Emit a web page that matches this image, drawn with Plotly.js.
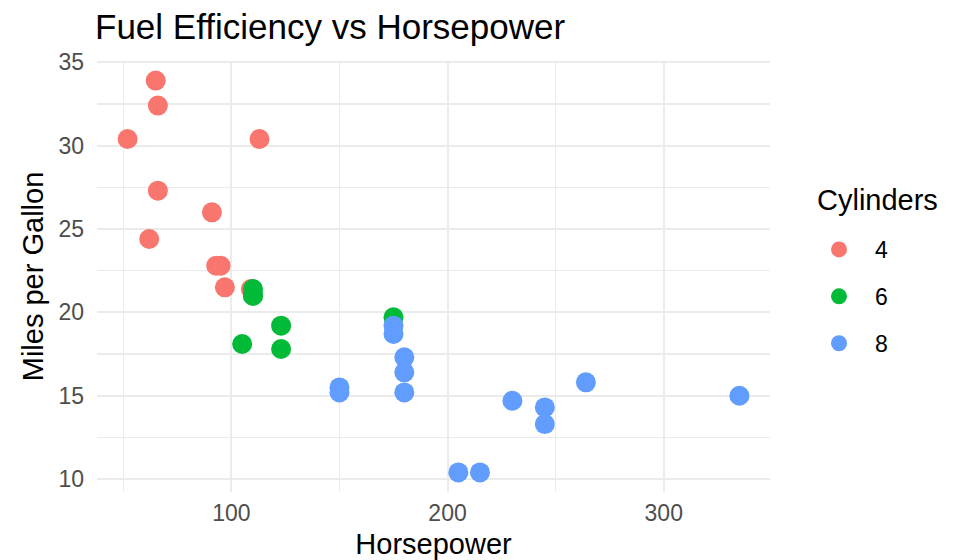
<!DOCTYPE html>
<html>
<head>
<meta charset="utf-8">
<script src="https://cdn.plot.ly/plotly-3.0.1.min.js"></script>
<style>html,body{margin:0;padding:0;background:#fff;}#chart{width:959px;height:560px;}</style>
</head>
<body>
<div id="chart"></div>
<script>
// mtcars: horsepower and mpg by cylinder group
const hp4 = [93, 62, 95, 66, 52, 65, 97, 66, 91, 113, 109];
const mpg4 = [22.8, 24.4, 22.8, 32.4, 30.4, 33.9, 21.5, 27.3, 26.0, 30.4, 21.4];
const hp6 = [110, 110, 110, 105, 123, 123, 175];
const mpg6 = [21.0, 21.0, 21.4, 18.1, 19.2, 17.8, 19.7];
const hp8 = [175, 245, 180, 180, 180, 205, 215, 230, 150, 150, 245, 175, 264, 335];
const mpg8 = [18.7, 14.3, 16.4, 17.3, 15.2, 10.4, 10.4, 14.7, 15.5, 15.2, 13.3, 19.2, 15.8, 15.0];
const groupNames = ['4', '6', '8'];
const groupColors = ['#F8766D', '#00BA38', '#619CFF'];
const xTicks = [100, 200, 300];
const yTicks = [10, 15, 20, 25, 30, 35];

const xs = [hp4, hp6, hp8];
const ys = [mpg4, mpg6, mpg8];
const traces = groupNames.map((g, i) => ({
  type: 'scatter', mode: 'markers', name: g, legendgroup: g,
  x: xs[i], y: ys[i],
  marker: {color: groupColors[i], size: 20, line: {width: 0}},
  hoverinfo: 'x+y'
}));

const font = 'Liberation Sans, Arial, Helvetica, sans-serif';
const layout = {
  width: 959, height: 560,
  margin: {l: 97, r: 189, t: 61, b: 68, pad: 0},
  paper_bgcolor: '#fff', plot_bgcolor: '#fff',
  font: {family: font, color: '#000'},
  title: {text: 'Fuel Efficiency vs Horsepower', font: {size: 35, color: '#000', family: font},
          x: 95/959, xanchor: 'left', xref: 'container', y: 1 - 27/560, yanchor: 'middle', yref: 'container'},
  xaxis: {
    range: [37.85, 349.15], tickvals: xTicks, ticktext: xTicks.map(String),
    showgrid: true, gridcolor: '#EBEBEB', gridwidth: 2, zeroline: false, showline: false, ticks: '',
    tickfont: {size: 23, color: '#4D4D4D'}, ticklabelstandoff: 5,
    minor: {tickvals: [50, 150, 250], showgrid: true, gridcolor: '#EBEBEB', gridwidth: 1.2},
    title: {text: 'Horsepower', font: {size: 29, color: '#000'}, standoff: 12}
  },
  yaxis: {
    range: [9.225, 35.075], tickvals: yTicks, ticktext: yTicks.map(String),
    showgrid: true, gridcolor: '#EBEBEB', gridwidth: 2, zeroline: false, showline: false, ticks: '',
    tickfont: {size: 23, color: '#4D4D4D'}, ticklabelstandoff: 12,
    minor: {tickvals: [12.5, 17.5, 22.5, 27.5, 32.5], showgrid: true, gridcolor: '#EBEBEB', gridwidth: 1.2},
    title: {text: 'Miles per Gallon', font: {size: 29, color: '#000'}, standoff: 6}
  },
  showlegend: true,
  legend: {
    x: (803 - 97) / 673, xanchor: 'left', y: (492 - 228) / 431, yanchor: 'top',
    font: {size: 23, color: '#000'}, itemwidth: 62,
    traceorder: 'grouped', tracegroupgap: 14,
    bgcolor: 'rgba(0,0,0,0)', borderwidth: 0
  },
  annotations: [{
    text: 'Cylinders', xref: 'paper', yref: 'paper',
    x: (815 - 97) / 673, xanchor: 'left', y: (492 - 200) / 431, yanchor: 'middle',
    showarrow: false, font: {size: 29, color: '#000'}
  }]
};

Plotly.newPlot('chart', traces, layout, {displayModeBar: false, staticPlot: true});
</script>
</body>
</html>
